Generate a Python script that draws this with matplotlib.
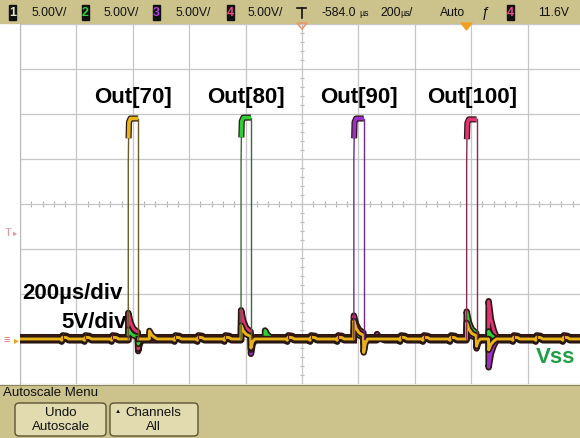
import numpy as np
import matplotlib.pyplot as plt
import matplotlib.patheffects as pe
from matplotlib.patches import Rectangle, FancyBboxPatch, Polygon
from matplotlib.lines import Line2D

plt.rcParams['font.family'] = ['Liberation Sans', 'DejaVu Sans']

# ---- values (time in us, level in volts) ----
ch_names = ['1', '2', '3', '4']
ch_colors = ['#e9b418', '#2ccf36', '#9a30c8', '#e23274']
ch_edge = ['#6b5a2a', '#3d6a3a', '#6a2a86', '#8a2a50']
volts_div = ['5.00V/', '5.00V/', '5.00V/', '5.00V/']
pulse_labels = ['Out[70]', 'Out[80]', 'Out[90]', 'Out[100]']
rise_us = [-616, -216, 184, 584]
width_us = 35
top_v = [24.5, 24.6, 24.5, 24.4]
# coupling on the other channels at each edge (row = pulse, col = channel)
couple_up = [[0.0, 1.0, 2.2, 2.7],
             [1.5, 0.0, 2.3, 3.0],
             [2.0, 1.0, 0.0, 2.4],
             [1.8, 3.0, 1.4, 0.0]]
couple_down = [[0.0, 0.6, 1.2, 1.3],
               [1.0, 0.0, 1.5, 1.4],
               [1.5, 0.6, 0.0, 1.6],
               [0.8, 0.6, 0.9, 0.0]]
# ringing after the falling edges: (channel, time, volts)
ring = [(0, -541, 0.9), (1, -131, 0.9), (2, 266, 0.7),
        (3, 662, 4.0), (2, 662, -3.0), (1, 662, 0.8), (0, 662, -1.2)]
ripple_us = [-849, -768, -672, -449, -368, -272, -49, 32, 128,
             351, 432, 528, 751, 832, 928]
t_min, t_max = -1000, 986

W, H = 580, 439
KHAKI = '#cbc28c'
DARK = '#2b1712'


def fx(px):
    return px / W


def fy(py):
    return 1 - py / H


def channel_trace(c):
    events = []
    for t in ripple_us:
        events.append([(t - 6, 0), (t - 3, -0.15), (t, 0.2), (t + 14, 0.15), (t + 22, 0)])
    for k, r in enumerate(rise_us):
        f = r + width_us
        if k == c:
            events.append([(r, 0), (np.nan, np.nan), (f + 2, 0)])
        else:
            a, b = couple_up[k][c], couple_down[k][c]
            events.append([(r - 0.5, 0), (r, a), (r + 8, a * 0.6), (r + 18, a * 0.35),
                           (f - 1, a * 0.2), (f, -b), (f + 6, -b * 0.3), (f + 14, 0)])
    for ch, t, a in ring:
        if ch == c:
            events.append([(t - 0.5, 0), (t, a), (t + 8, a * 0.5), (t + 18, a * 0.2), (t + 28, 0)])
    events.sort(key=lambda e: e[0][0])
    pts = [(t_min, 0)] + [p for e in events for p in e] + [(t_max, 0)]
    t, v = np.array(pts, dtype=float).T
    return t, v


fig = plt.figure(figsize=(5.8, 4.39), dpi=100)
fig.patch.set_facecolor('white')

ax = fig.add_axes([fx(20), fy(385), (W - 20) / W, 360 / H])
ax.set_xlim(t_min, t_max)
ax.set_ylim(-5, 35)
ax.set_xticks(np.arange(-1000, 1000, 200))
ax.set_yticks(np.arange(-5, 36, 5))
ax.grid(True, color='#c6c6c6', lw=0.9)
ax.tick_params(length=0, labelbottom=False, labelleft=False)
for s in ax.spines.values():
    s.set_visible(False)
ax.spines['left'].set_visible(True)
ax.spines['left'].set_color('#b8b8b8')

# minor ticks on the centre lines
ax.vlines(np.arange(-1000, 987, 40), 14.65, 15.35, color='#b4b4b4', lw=0.8, zorder=1)
ax.hlines(np.arange(-5, 35.1, 1), -6, 6, color='#b4b4b4', lw=0.8, zorder=1)

# baseline traces
offsets = [0.0, 0.05, -0.15, 0.2]
stroke = [pe.Stroke(linewidth=4.6, foreground=DARK), pe.Normal()]
for c in [2, 3, 1, 0]:
    t, v = channel_trace(c)
    ax.plot(t, v + offsets[c], color=ch_colors[c], lw=2.1, solid_joinstyle='round',
            path_effects=stroke, zorder=3)
ax.vlines(ripple_us, 0, 0.8, color='#5a1a20', lw=0.8, zorder=4)

# pulses
for k, r in enumerate(rise_us):
    f = r + width_us
    top = top_v[k]
    ax.plot([r, r, r + 1.5], [0, top * 0.8, top - 1.2], color=ch_edge[k], lw=1.0, zorder=4)
    ax.plot([f, f], [top, 0], color=ch_edge[k], lw=1.0, zorder=4)
    ax.plot([r + 1, r + 2.5, r + 8, f], [top - 2.2, top - 0.4, top, top],
            color=ch_colors[k], lw=2.6, solid_capstyle='butt',
            path_effects=[pe.Stroke(linewidth=4.4, foreground=DARK), pe.Normal()], zorder=5)
    ax.text(r + 18, 27.0, pulse_labels[k], ha='center', va='center',
            fontsize=16, fontweight='bold', zorder=6)

ax.text(-993, 5.2, '200µs/div', ha='left', va='center', fontsize=16, fontweight='bold', zorder=6)
ax.text(-620, 1.9, '5V/div', ha='right', va='center', fontsize=16, fontweight='bold', zorder=6)
ax.text(970, -1.9, 'Vss', ha='right', va='center', fontsize=16, fontweight='bold',
        color='#1f9e45', zorder=6)

# markers on the screen edges
fig.add_artist(Polygon([[fx(461), fy(24)], [fx(472), fy(24)], [fx(466.5), fy(31)]],
                       closed=True, color='#f0a020', transform=fig.transFigure))
fig.add_artist(Polygon([[fx(297), fy(24)], [fx(307), fy(24)], [fx(302), fy(30)]],
                       closed=True, fc='none', ec='#e59a6a', lw=1.2, transform=fig.transFigure))
fig.text(fx(8), fy(233), 'T', color='#e89090', fontsize=8, ha='center', va='center')
fig.text(fx(15), fy(234), '▸', color='#e89090', fontsize=6, ha='center', va='center')
fig.text(fx(7), fy(340), '≡', color='#e47070', fontsize=8, ha='center', va='center')
fig.text(fx(16), fy(340), '▸', color='#f0a020', fontsize=7, ha='center', va='center')

# status bar
fig.add_artist(Rectangle((0, fy(24)), 1, 24 / H, transform=fig.transFigure,
                         color=KHAKI, zorder=0))
status_font = dict(fontsize=8.8, va='center', color='#111111')
unit_font = dict(fontsize=6.3, va='center', color='#111111')
box_x = [9, 82, 153, 227]
text_x = [32, 103, 175, 247]
for i in range(4):
    fig.add_artist(Rectangle((fx(box_x[i]), fy(21)), 7 / W, 15 / H,
                             transform=fig.transFigure, color='#111111'))
    fig.text(fx(box_x[i] + 3.5), fy(13.5), ch_names[i], ha='center', fontsize=9, va='center',
             fontweight='bold', color=['#e8e4c8', '#30d040', '#b040e0', '#f04888'][i])
    fig.text(fx(text_x[i]), fy(13.5), volts_div[i], ha='left', **status_font)
fig.add_artist(Line2D([fx(297), fx(306)], [fy(9), fy(9)], color='#111111', lw=1.2))
fig.add_artist(Line2D([fx(301.5), fx(301.5)], [fy(9), fy(19)], color='#111111', lw=1.2))
fig.text(fx(322), fy(13.5), '-584.0', ha='left', **status_font)
fig.text(fx(359), fy(13.5), 'µs', ha='left', **unit_font)
fig.text(fx(380), fy(13.5), '200', ha='left', **status_font)
fig.text(fx(400), fy(13.5), 'µs', ha='left', **unit_font)
fig.text(fx(409), fy(13.5), '/', ha='left', **status_font)
fig.text(fx(440), fy(13.5), 'Auto', ha='left', **status_font)
fig.text(fx(486), fy(13.5), 'ƒ', ha='center', fontsize=10, va='center', color='#111111')
fig.add_artist(Rectangle((fx(507), fy(21)), 7 / W, 15 / H, transform=fig.transFigure,
                         color='#111111'))
fig.text(fx(510.5), fy(13.5), '4', ha='center', fontsize=9, va='center',
         fontweight='bold', color='#f04888')
fig.text(fx(538), fy(13.5), '11.6V', ha='left', **status_font)

# softkey menu
fig.add_artist(Rectangle((0, 0), 1, (H - 386) / H, transform=fig.transFigure,
                         color=KHAKI, zorder=0))
fig.add_artist(Line2D([0, 1], [fy(386), fy(386)], color='#8a8460', lw=0.8))
fig.text(fx(3), fy(393.5), 'Autoscale Menu', ha='left', va='center', fontsize=9.5,
         color='#111111')
buttons = [(15, 106, 61, ['Undo', 'Autoscale']), (110, 198, 153, ['Channels', 'All'])]
for x0, x1, cx, lines in buttons:
    fig.add_artist(FancyBboxPatch((fx(x0), fy(437)), (x1 - x0) / W, 33 / H,
                                  boxstyle='round,pad=0,rounding_size=0.008',
                                  transform=fig.transFigure, fc='#e2dbb0',
                                  ec='#5c5432', lw=1.0))
    fig.text(fx(cx), fy(413), lines[0], ha='center', va='center', fontsize=9.5, color='#111111')
    fig.text(fx(cx), fy(427), lines[1], ha='center', va='center', fontsize=9.5, color='#111111')
fig.text(fx(118), fy(412), '▲', ha='center', va='center', fontsize=4.5, color='#111111')

fig.savefig('out.png', dpi=100)
